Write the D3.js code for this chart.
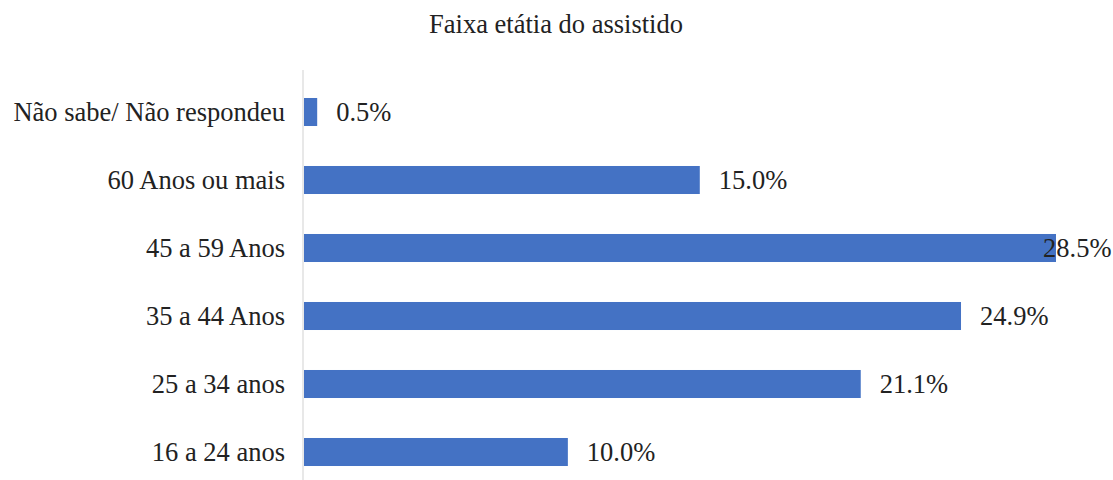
<!DOCTYPE html>
<html>
<head>
<meta charset="utf-8">
<script src="https://cdn.jsdelivr.net/npm/d3@7"></script>
<style>
  html, body { margin: 0; padding: 0; background: #fff; }
  svg { display: block; }
</style>
</head>
<body>
<svg id="chart" width="1113" height="480"></svg>
<script>
// Age groups of the assisted people (top to bottom)
const categories = [
  "Não sabe/ Não respondeu",
  "60 Anos ou mais",
  "45 a 59 Anos",
  "35 a 44 Anos",
  "25 a 34 anos",
  "16 a 24 anos"
];
const values = [0.5, 15.0, 28.5, 24.9, 21.1, 10.0];
const title = "Faixa etátia do assistido";

const FONT = '"Liberation Serif"';
const svg = d3.select("#chart");
const left = 303;

const x = d3.scaleLinear().domain([0, 28.5]).range([left, 1055]);
const y = d3.scaleBand().domain(categories).range([78, 486]).paddingInner(0.588).paddingOuter(0.294);

// Title
svg.append("text")
  .attr("x", 556).attr("y", 33)
  .attr("text-anchor", "middle")
  .style("font-family", FONT)
  .style("font-size", "26.5px")
  .attr("fill", "#222")
  .text(title);

// Bars
svg.append("g").selectAll("rect")
  .data(values)
  .join("rect")
  .attr("x", x(0) + 1)
  .attr("y", (d, i) => y(categories[i]))
  .attr("width", d => x(d) - x(0))
  .attr("height", y.bandwidth())
  .attr("fill", "#4472C4");

// Category axis
const axis = svg.append("g")
  .attr("transform", `translate(${left},0)`)
  .call(d3.axisLeft(y).tickSize(0).tickPadding(18));
axis.select(".domain").remove();
axis.attr("font-family", null);
axis.selectAll("text")
  .style("font-family", FONT)
  .style("font-size", "26.5px")
  .attr("fill", "#222")
  .attr("dy", "0.34em");

svg.append("line")
  .attr("x1", left).attr("x2", left)
  .attr("y1", 70).attr("y2", 486)
  .attr("stroke", "#d9d9d9")
  .attr("stroke-width", 1.2);

// Value labels, kept inside the plot width
svg.append("g").selectAll("text")
  .data(values)
  .join("text")
  .attr("x", d => Math.min(x(d) + 20, 1043))
  .attr("y", (d, i) => y(categories[i]) + y.bandwidth() / 2)
  .attr("dy", "0.34em")
  .style("font-family", FONT)
  .style("font-size", "26.5px")
  .attr("fill", "#222")
  .text(d => d.toFixed(1) + "%");
</script>
</body>
</html>
